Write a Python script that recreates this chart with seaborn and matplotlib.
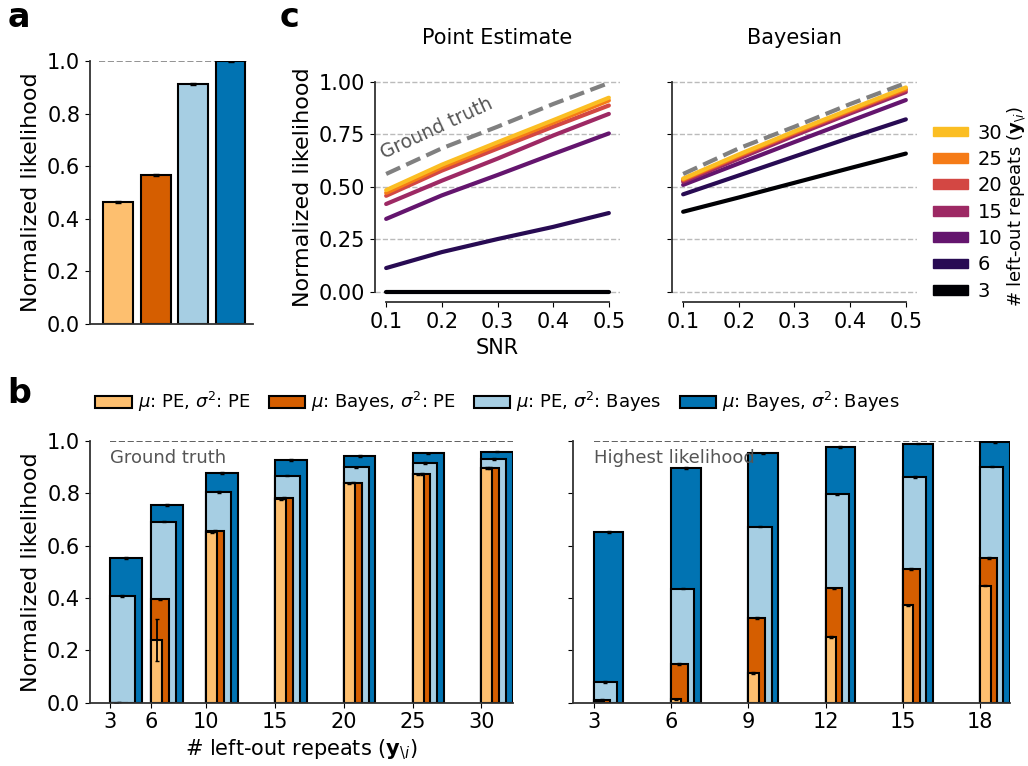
import numpy as np
import pandas as pd
import seaborn as sns
import matplotlib.pyplot as plt
from matplotlib.patches import Patch

# =====================
# Data
# =====================

# panel a
a_labels = ["PE/PE", "Bayes/PE", "PE/Bayes", "Bayes/Bayes"]
a_values = [0.465, 0.566, 0.913, 1.0]
a_errors = [0.003, 0.003, 0.003, 0.002]

# panel c
snr = [0.1, 0.2, 0.3, 0.4, 0.5]
repeats = [3, 6, 10, 15, 20, 25, 30]
ground_truth = [0.562, 0.684, 0.787, 0.895, 0.995]
pe_lines = [
    [0.0, 0.0, 0.0, 0.0, 0.0],
    [0.114, 0.19, 0.252, 0.31, 0.376],
    [0.348, 0.46, 0.557, 0.657, 0.755],
    [0.419, 0.53, 0.635, 0.745, 0.848],
    [0.458, 0.578, 0.683, 0.787, 0.888],
    [0.472, 0.594, 0.70, 0.806, 0.912],
    [0.485, 0.606, 0.713, 0.818, 0.925],
]
bayes_lines = [
    [0.382, 0.45, 0.52, 0.59, 0.659],
    [0.465, 0.555, 0.645, 0.735, 0.822],
    [0.51, 0.612, 0.714, 0.814, 0.914],
    [0.525, 0.635, 0.745, 0.85, 0.952],
    [0.532, 0.645, 0.755, 0.86, 0.962],
    [0.536, 0.65, 0.76, 0.865, 0.968],
    [0.54, 0.655, 0.765, 0.87, 0.974],
]

# panel b (left: vs ground truth, right: vs highest likelihood)
left_x = [3, 6, 10, 15, 20, 25, 30]
left_pe_pe = [0.0, 0.24, 0.653, 0.778, 0.838, 0.873, 0.896]
left_bayes_pe = [0.0, 0.395, 0.657, 0.783, 0.841, 0.875, 0.898]
left_pe_bayes = [0.408, 0.692, 0.806, 0.868, 0.899, 0.917, 0.932]
left_bayes_bayes = [0.554, 0.755, 0.879, 0.927, 0.943, 0.953, 0.96]
left_pe_pe_err = [0.0, 0.08, 0.003, 0.003, 0.003, 0.003, 0.003]

right_x = [3, 6, 9, 12, 15, 18]
right_pe_pe = [0.004, 0.013, 0.113, 0.252, 0.372, 0.448]
right_bayes_pe = [0.01, 0.148, 0.324, 0.437, 0.511, 0.554]
right_pe_bayes = [0.08, 0.436, 0.673, 0.796, 0.862, 0.902]
right_bayes_bayes = [0.652, 0.897, 0.953, 0.977, 0.99, 0.997]

legend_labels = [r"$\mu$: PE, $\sigma^2$: PE", r"$\mu$: Bayes, $\sigma^2$: PE",
                 r"$\mu$: PE, $\sigma^2$: Bayes", r"$\mu$: Bayes, $\sigma^2$: Bayes"]
bar_colors = ["#fdbf6f", "#d55e00", "#a6cee3", "#0173b2"]
line_colors = [plt.cm.inferno(v) for v in np.linspace(0, 0.85, 7)]

# =====================
# Figure
# =====================
sns.set_style("ticks")
plt.rcParams["font.family"] = ["DejaVu Sans"]
plt.rcParams["font.size"] = 15
plt.rcParams["axes.linewidth"] = 1.3
for key in ["text.color", "axes.labelcolor", "xtick.color", "ytick.color"]:
    plt.rcParams[key] = "black"
plt.rcParams["axes.edgecolor"] = "#333333"

fig = plt.figure(figsize=(10.28, 7.66), dpi=100)

# ---- panel a
ax_a = fig.add_axes([0.0875, 0.577, 0.1586, 0.3433])
df_a = pd.DataFrame({"model": a_labels, "value": a_values})
sns.barplot(data=df_a, x="model", y="value", hue="model", palette=bar_colors,
            saturation=1, edgecolor="black", linewidth=1.5, legend=False, ax=ax_a)
ax_a.errorbar(range(4), a_values, yerr=a_errors, fmt="none", ecolor="black",
              capsize=2, lw=1)
ax_a.hlines(1.0, -0.5, 3.5, color="gray", ls="--", lw=1.2, zorder=0)
ax_a.set_xlim(-0.75, 3.6)
ax_a.set_ylim(0, 1.0)
ax_a.set_xticks([])
ax_a.set_xlabel("")
ax_a.set_ylabel("Normalized likelihood", fontsize=16)
sns.despine(ax=ax_a)

# ---- panel c
rows = []
for name, lines in [("pe", pe_lines), ("bayes", bayes_lines)]:
    for r, vals in zip(repeats, lines):
        for s, v in zip(snr, vals):
            rows.append({"model": name, "repeats": r, "snr": s, "lik": v})
df_c = pd.DataFrame(rows)
pal = dict(zip(repeats, line_colors))

ax_c1 = fig.add_axes([0.3648, 0.6051, 0.2383, 0.3016])
ax_c2 = fig.add_axes([0.6537, 0.6051, 0.2383, 0.3016], sharey=ax_c1)
for ax, name, title in [(ax_c1, "pe", "Point Estimate"), (ax_c2, "bayes", "Bayesian")]:
    for yv in [0, 0.25, 0.5, 0.75, 1.0]:
        ax.axhline(yv, color="#bbbbbb", ls="--", lw=1, zorder=0)
    sns.lineplot(data=df_c[df_c["model"] == name], x="snr", y="lik", hue="repeats",
                 palette=pal, lw=3, legend=False, ax=ax)
    ax.plot(snr, ground_truth, color="gray", ls="--", lw=3)
    ax.set_title(title, pad=20, fontsize=15)
    ax.set_xticks([0.1, 0.2, 0.3, 0.4, 0.5])
    ax.set_yticks([0, 0.25, 0.5, 0.75, 1.0])
    ax.set_ylim(-0.05, 1.05)
    sns.despine(ax=ax, trim=True)
ax_c1.set_xlabel("SNR")
ax_c1.set_ylabel("Normalized likelihood", fontsize=16)
ax_c2.set_xlabel("")
ax_c2.set_ylabel("")
ax_c2.tick_params(labelleft=False)
ax_c1.text(0.1, 0.615, "Ground truth", rotation=25, rotation_mode="anchor",
           color="#555555", fontsize=13.5, ha="left", va="bottom")

handles = [Patch(color=c, label=str(r)) for r, c in zip(repeats, line_colors)][::-1]
fig.legend(handles=handles, loc="center left", bbox_to_anchor=(0.9, 0.723),
           frameon=False, handlelength=1.8, handleheight=0.4, labelspacing=0.38,
           handletextpad=0.5, borderaxespad=0, fontsize=14)
fig.text(0.989, 0.73, r"# left-out repeats ($\mathbf{y}_{\backslash i}$)", rotation=90,
         ha="center", va="center", fontsize=13)

# ---- panel b
widths_left = [0.8, 1.3, 1.8, 2.3]
widths_right = [0.4, 0.65, 0.9, 1.15]
ax_b1 = fig.add_axes([0.0875, 0.0826, 0.4115, 0.3416])
ax_b2 = fig.add_axes([0.557, 0.0826, 0.4254, 0.3416], sharey=ax_b1)

series_left = [left_pe_pe, left_bayes_pe, left_pe_bayes, left_bayes_bayes]
series_right = [right_pe_pe, right_bayes_pe, right_pe_bayes, right_bayes_bayes]
for ax, xs, series, widths in [(ax_b1, left_x, series_left, widths_left),
                               (ax_b2, right_x, series_right, widths_right)]:
    for i in [3, 2, 1, 0]:
        ax.bar(xs, series[i], width=widths[i], align="edge", color=bar_colors[i],
               edgecolor="black", linewidth=1.5, label=legend_labels[i])
        errs = left_pe_pe_err if (ax is ax_b1 and i == 0) else [0.003] * len(xs)
        ax.errorbar(np.array(xs) + widths[i] / 2, series[i], yerr=errs, fmt="none",
                    ecolor="black", capsize=1.5, lw=1.3)
    ax.set_xticks(xs)
    sns.despine(ax=ax)

ax_b1.hlines(1.0, 3, 32.3, color="#444444", ls="--", lw=1.2, zorder=0)
ax_b2.hlines(1.0, 3, 19.15, color="#444444", ls="--", lw=1.2, zorder=0)
ax_b1.set_xlim(1.54, 32.3)
ax_b2.set_xlim(2.18, 19.15)
ax_b1.set_ylim(0, 1.0)
ax_b1.set_yticks([0, 0.2, 0.4, 0.6, 0.8, 1.0])
ax_b2.tick_params(labelleft=False)
ax_b1.set_ylabel("Normalized likelihood", fontsize=16)
ax_b1.set_xlabel(r"# left-out repeats ($\mathbf{y}_{\backslash i}$)", fontsize=15)
ax_b1.text(3, 0.915, "Ground truth", color="#555555", fontsize=13, va="baseline")
ax_b2.text(3, 0.915, "Highest likelihood", color="#555555", fontsize=13, va="baseline")

h, l = ax_b1.get_legend_handles_labels()
fig.legend(h[::-1], l[::-1], loc="center", bbox_to_anchor=(0.484, 0.475), ncol=4,
           frameon=False, fontsize=13, handlelength=2.0, handletextpad=0.35,
           columnspacing=1.0)

# panel letters
fig.text(0.007, 0.965, "a", fontsize=24, fontweight="bold", va="baseline")
fig.text(0.272, 0.965, "c", fontsize=24, fontweight="bold", va="baseline")
fig.text(0.007, 0.474, "b", fontsize=24, fontweight="bold", va="baseline")

plt.savefig("out.png", dpi=100)
